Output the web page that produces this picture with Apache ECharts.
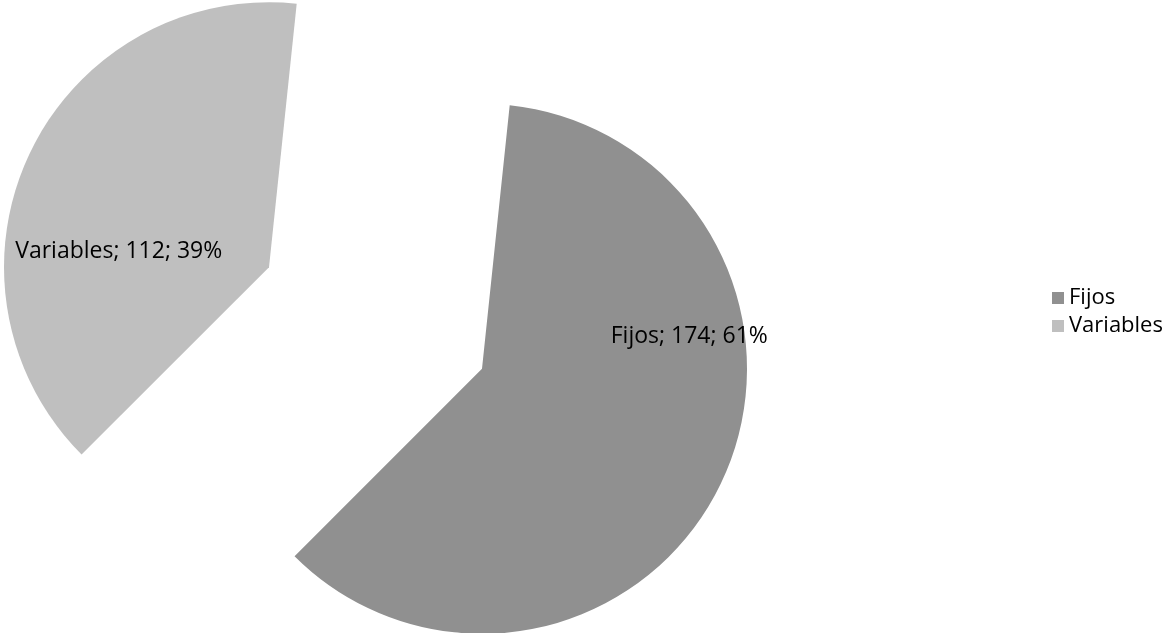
<!DOCTYPE html>
<html><head><meta charset="utf-8">
<script src="https://cdn.jsdelivr.net/npm/echarts@6/dist/echarts.min.js"></script>
<style>html,body{margin:0;padding:0;background:#fff}#c{width:1171px;height:633px}</style>
</head><body><div id="c"></div>
<script>
const categories = ['Fijos', 'Variables'];
const values = [174, 112];
const colors = ['#909090', '#bfbfbf'];
const labelShifts = [[85, -91], [-28, 43]];

const total = values.reduce((a, b) => a + b, 0);
const chart = echarts.init(document.getElementById('c'), null, {renderer: 'canvas'});
const FONT = '"Open Sans", "Liberation Sans", sans-serif';
chart.setOption({
  animation: false,
  legend: {
    orient: 'vertical',
    left: 1047,
    top: 282,
    itemWidth: 12,
    itemHeight: 12,
    itemGap: 6,
    icon: 'rect',
    selectedMode: false,
    textStyle: {fontFamily: FONT, fontSize: 22, color: '#000'},
    data: categories
  },
  series: [{
    type: 'pie',
    center: [375.5, 318],
    radius: [0, 265],
    startAngle: 84,
    clockwise: true,
    selectedMode: 'multiple',
    selectedOffset: 118,
    avoidLabelOverlap: false,
    label: {
      show: true,
      position: 'inside',
      fontFamily: FONT,
      fontSize: 23,
      color: '#000',
      formatter: p => p.name + '; ' + p.value + '; ' + Math.round(p.value / total * 100) + '%'
    },
    labelLayout: p => ({dx: labelShifts[p.dataIndex][0], dy: labelShifts[p.dataIndex][1]}),
    labelLine: {show: false},
    emphasis: {disabled: true},
    data: categories.map((c, i) => ({
      name: c,
      value: values[i],
      selected: true,
      itemStyle: {color: colors[i]}
    }))
  }]
});
</script></body></html>
